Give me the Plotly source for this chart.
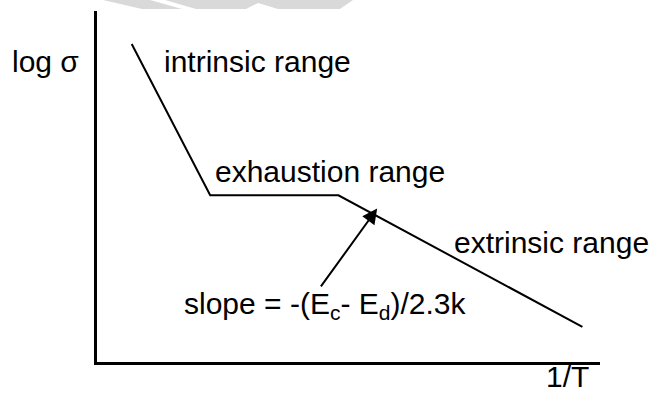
import plotly.graph_objects as go

# Conductivity vs inverse temperature (schematic, arbitrary units)
inv_T = [0.69, 2.25, 4.80, 9.65]
log_sigma = [9.06, 4.75, 4.75, 1.00]

# Slope annotation arrow: tail and head (head sits on the extrinsic segment)
arrow_tail = (4.43, 2.11)
arrow_head = (5.57, 4.37)

FONT = "Arial, Liberation Sans, sans-serif"
FS = 30
TXT = dict(family=FONT, size=FS, color="black")

fig = go.Figure()
fig.add_trace(go.Scatter(
    x=inv_T, y=log_sigma, mode="lines",
    line=dict(color="black", width=2),
    hoverinfo="skip", showlegend=False,
))

ann = []
ann.append(dict(x=arrow_head[0], y=arrow_head[1], ax=arrow_tail[0], ay=arrow_tail[1],
                xref="x", yref="y", axref="x", ayref="y", text="",
                showarrow=True, arrowhead=2, arrowsize=1.5, arrowwidth=2,
                arrowcolor="black", standoff=0))

def label(text, x, y, xanchor="left"):
    ann.append(dict(text=text, x=x, y=y, xref="x", yref="y", xanchor=xanchor,
                    yanchor="middle", showarrow=False, font=TXT))

label("intrinsic range", 1.30, 8.55)
label("exhaustion range", 2.30, 5.42)
label("extrinsic range", 7.05, 3.40)
label("slope = -(E<sub>c</sub>- E<sub>d</sub>)/2.3k", 7.38, 1.62, xanchor="right")

# axis names sit outside the plotting area, so they use paper coordinates
ann.append(dict(text="log σ", x=-0.032, y=0.855, xref="paper", yref="paper",
                xanchor="right", yanchor="middle", showarrow=False, font=TXT))
ann.append(dict(text="1/T", x=0.936, y=-0.040, xref="paper", yref="paper",
                xanchor="center", yanchor="middle", showarrow=False, font=TXT))

# faint grey mark along the top edge of the page (pixel-based paper fractions)
W, H = 653.0, 396.0
L, R, T, B = 97, 53, 11, 34
def px(x):
    return (x - L) / (W - L - R)
def py(y):
    return (H - B - y) / (H - T - B)
def poly(points):
    return "M " + " L ".join(f"{px(x):.4f},{py(y):.4f}" for x, y in points) + " Z"

wm = "#d9d9d9"
shapes = [
    dict(type="path", xref="paper", yref="paper", layer="below",
         path=poly([(103, 0), (150, 0), (182, 9), (142, 9)]),
         fillcolor=wm, line=dict(width=0)),
    dict(type="path", xref="paper", yref="paper", layer="below",
         path=poly([(165, 0), (353, 0), (340, 9), (278, 9), (258, 3), (246, 9), (196, 9)]),
         fillcolor=wm, line=dict(width=0)),
]

fig.update_layout(
    width=653, height=396,
    margin=dict(l=L, r=R, t=T, b=B),
    paper_bgcolor="white", plot_bgcolor="white",
    annotations=ann,
    shapes=shapes,
    xaxis=dict(range=[0, 10], showgrid=False, zeroline=False, showticklabels=False,
               ticks="", showline=True, linecolor="black", linewidth=3, fixedrange=True),
    yaxis=dict(range=[0, 10], showgrid=False, zeroline=False, showticklabels=False,
               ticks="", showline=True, linecolor="black", linewidth=3, fixedrange=True),
)

fig.write_html("out.html")
